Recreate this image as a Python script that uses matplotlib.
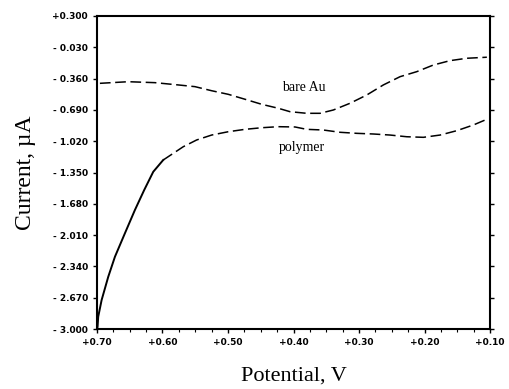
import matplotlib
matplotlib.use("Agg")
import matplotlib.pyplot as plt
from matplotlib.ticker import MultipleLocator

# data
bare_x = [0.6954, 0.6522, 0.6115, 0.5759, 0.5504, 0.5249, 0.4995, 0.4740, 0.4486, 0.4232, 0.4053,
          0.3798, 0.3595, 0.3392, 0.3137, 0.2882, 0.2629, 0.2374, 0.2119, 0.1866, 0.1611, 0.1356, 0.1050]
bare_y = [-0.410, -0.393, -0.403, -0.427, -0.445, -0.488, -0.526, -0.578, -0.631, -0.673, -0.709,
          -0.726, -0.726, -0.691, -0.620, -0.533, -0.427, -0.340, -0.287, -0.217, -0.171, -0.146, -0.135]

poly_x = [0.699, 0.698, 0.6928, 0.6827, 0.6725, 0.6573, 0.6420, 0.6278, 0.6140, 0.5988, 0.5835, 0.5682,
          0.5478, 0.5249, 0.4995, 0.4740, 0.4486, 0.4232, 0.3977, 0.3798, 0.3545, 0.3290, 0.3035,
          0.2782, 0.2527, 0.2272, 0.2018, 0.1763, 0.1508, 0.1255, 0.1050]
poly_y = [-2.976, -2.870, -2.694, -2.449, -2.238, -1.991, -1.745, -1.534, -1.342, -1.218, -1.148, -1.078,
          -1.007, -0.955, -0.920, -0.895, -0.878, -0.867, -0.870, -0.895, -0.902, -0.926, -0.937,
          -0.944, -0.955, -0.973, -0.979, -0.955, -0.909, -0.849, -0.789]

y_ticks = [0.300, -0.030, -0.360, -0.690, -1.020, -1.350, -1.680, -2.010, -2.340, -2.670, -3.000]
y_labels = ["+0.300", "- 0.030", "- 0.360", "- 0.690", "- 1.020", "- 1.350", "- 1.680",
            "- 2.010", "- 2.340", "- 2.670", "- 3.000"]
x_ticks = [0.70, 0.60, 0.50, 0.40, 0.30, 0.20, 0.10]
x_labels = ["+0.70", "+0.60", "+0.50", "+0.40", "+0.30", "+0.20", "+0.10"]

fig = plt.figure(figsize=(5.10, 3.89), dpi=100)
ax = fig.add_axes([0.190, 0.154, 0.771, 0.805])

ax.plot(bare_x, bare_y, color="black", lw=1.1, dashes=(7, 3))
split = 9
ax.plot(poly_x[:split + 1], poly_y[:split + 1], color="black", lw=1.4, ls="-")
ax.plot(poly_x[split:], poly_y[split:], color="black", lw=1.1, dashes=(7, 3))

ax.set_xlim(0.70, 0.10)
ax.set_ylim(-3.0, 0.3)
ax.set_xticks(x_ticks)
ax.set_xticklabels(x_labels)
ax.set_yticks(y_ticks)
ax.set_yticklabels(y_labels)
ax.xaxis.set_minor_locator(MultipleLocator(0.025))
ax.tick_params(axis="both", which="major", labelsize=6.5, length=3, width=1, direction="out")
ax.tick_params(axis="x", which="minor", length=2, width=0.8, direction="out")
ax.tick_params(axis="y", right=True, which="major")
for lab in ax.get_xticklabels() + ax.get_yticklabels():
    lab.set_fontweight("bold")
for s in ax.spines.values():
    s.set_linewidth(1.5)

ax.text(0.384, -0.45, "bare Au", fontsize=10, family="Liberation Serif", ha="center", va="center")
ax.text(0.387, -1.09, "polymer", fontsize=10, family="Liberation Serif", ha="center", va="center")

ax.set_xlabel("Potential, V", fontsize=16, family="Liberation Serif", labelpad=14)
ax.set_ylabel("Current, µA", fontsize=17, family="Liberation Serif", labelpad=12)

fig.savefig("out.png", dpi=100)
